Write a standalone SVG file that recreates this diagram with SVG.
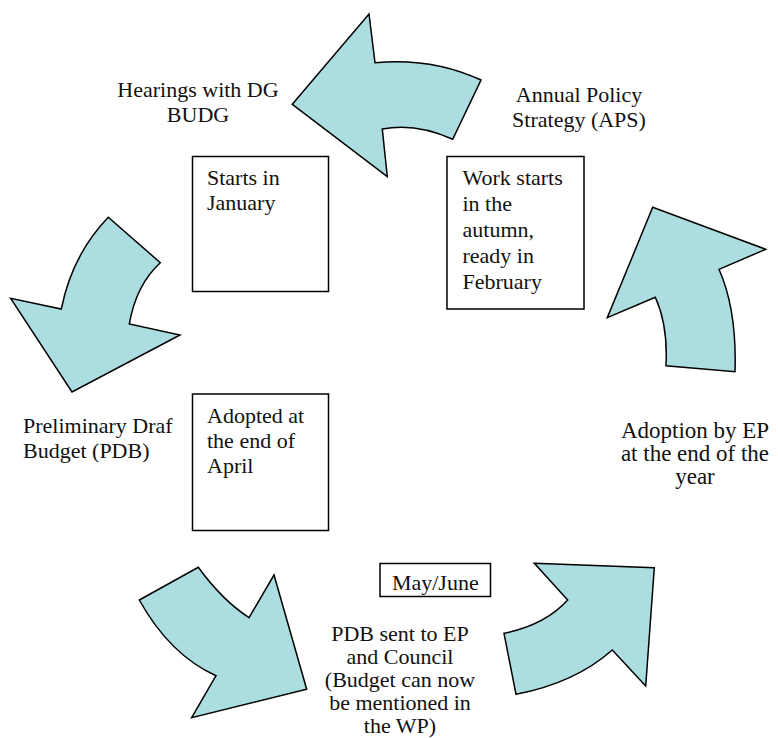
<svg xmlns="http://www.w3.org/2000/svg" width="778" height="738" viewBox="0 0 778 738">
<style>
.arr{fill:#acdde1;stroke:#000;stroke-width:1.5;stroke-linejoin:miter}
.box{fill:#fff;stroke:#000;stroke-width:1.5}
text{font-family:"Liberation Serif","Times New Roman",serif;font-size:22px;fill:#111}
.c{text-anchor:middle}
.big{font-size:23px}
</style>
<rect width="778" height="738" fill="#fff"/>
<g id="connectors">
<path id="arrow-top" class="arr" d="M292.3,104.3 L369,14 L375,62.7 Q432,57.2 481,80 L452.7,139.3 Q416,122.5 382.3,129 L387.3,176.7 Z"/>
<path id="arrow-right" class="arr" d="M652.7,207.3 L765.7,249.3 L719,269.3 Q737,310 735,371.7 L666,365.7 Q668,325 655.3,297.3 L607.3,317.7 Z"/>
<path id="arrow-left" class="arr" d="M108.3,217.3 L160.3,262.7 Q136,285 129.3,324 L180,335 L72,392 L10.7,298.3 L61.3,309 Q72,255 108.3,217.3 Z"/>
<path id="arrow-bottom-left" class="arr" d="M139.3,600 L198.3,567.3 Q222,600 249,617.7 L274,575 L306.7,689.3 L191.7,717.7 L216,675.7 Q170,655 139.3,600 Z"/>
<path id="arrow-bottom-right" class="arr" d="M534.3,563.3 L654.3,567.7 L645.7,686 L612.3,650 Q575,683 516,694.3 L504,633.3 Q545,625 567.7,600 Z"/>
</g>
<g id="node-hearings">
<text class="c" x="198" y="97">Hearings with DG</text>
<text class="c" x="198" y="122">BUDG</text>
</g>
<g id="node-aps">
<text class="c" x="579" y="102">Annual Policy</text>
<text class="c" x="579" y="127">Strategy (APS)</text>
</g>
<g id="node-starts-january">
<rect class="box" x="192.5" y="156.5" width="136" height="135"/>
<text x="207" y="185">Starts in</text>
<text x="207" y="210">January</text>
</g>
<g id="node-work-starts">
<rect class="box" x="447" y="156.5" width="137" height="152.5"/>
<text x="462.5" y="185">Work starts</text>
<text x="462.5" y="211">in the</text>
<text x="462.5" y="237">autumn,</text>
<text x="462.5" y="262.5">ready in</text>
<text x="462.5" y="288.5">February</text>
</g>
<g id="node-pdb">
<text x="23" y="433">Preliminary Draf</text>
<text x="23" y="458">Budget (PDB)</text>
</g>
<g id="node-adopted-april">
<rect class="box" x="192.5" y="394" width="136" height="136.5"/>
<text x="207" y="423">Adopted at</text>
<text x="207" y="448">the end of</text>
<text x="207" y="473">April</text>
</g>
<g id="node-adoption-ep">
<text class="c big" x="695" y="438">Adoption by EP</text>
<text class="c big" x="695" y="461">at the end of the</text>
<text class="c big" x="695" y="484">year</text>
</g>
<g id="node-may-june">
<rect class="box" x="380" y="563.5" width="110.5" height="33"/>
<text class="c" x="435.3" y="590">May/June</text>
</g>
<g id="node-pdb-sent">
<text class="c" x="400" y="641">PDB sent to EP</text>
<text class="c" x="400" y="664">and Council</text>
<text class="c" x="400" y="687">(Budget can now</text>
<text class="c" x="400" y="710">be mentioned in</text>
<text class="c" x="400" y="733">the WP)</text>
</g>
</svg>
